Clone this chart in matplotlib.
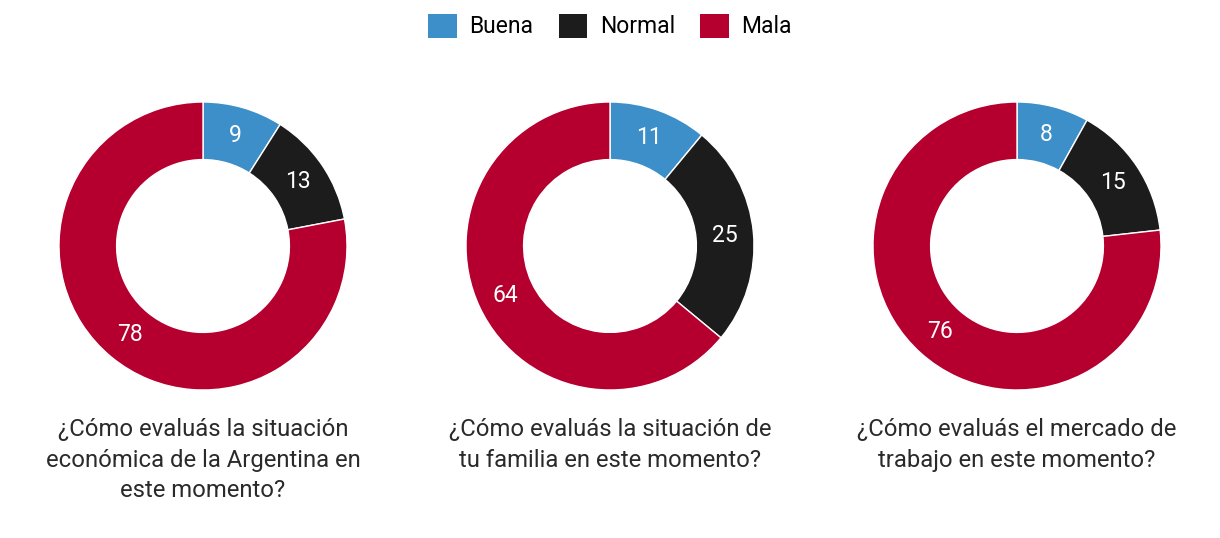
import matplotlib as mpl; mpl.use("Agg")
import matplotlib.pyplot as plt
from matplotlib.patches import Patch
import numpy as np

plt.rcParams["font.family"] = ["Roboto", "DejaVu Sans"]

CATS = ["Buena", "Normal", "Mala"]
COLORS = ["#3d8fca", "#1c1c1c", "#b5002f"]
VALUES = [
    [9, 13, 78],
    [11, 25, 64],
    [8, 15, 76],
]
TITLES = [
    "¿Cómo evaluás la situación\neconómica de la Argentina en\neste momento?",
    "¿Cómo evaluás la situación de\ntu familia en este momento?",
    "¿Cómo evaluás el mercado de\ntrabajo en este momento?",
]

W, H = 1220, 538
fig = plt.figure(figsize=(W / 100, H / 100), dpi=100)
fig.patch.set_facecolor("white")

CX = [203, 610, 1017]
CY = 246
R = 144

for cx, vals, title in zip(CX, VALUES, TITLES):
    ax = fig.add_axes([(cx - R) / W, (H - CY - R) / H, 2 * R / W, 2 * R / H])
    ax.pie(vals, colors=COLORS, startangle=90, counterclock=False,
           radius=1.0, wedgeprops=dict(width=0.4, edgecolor="white", lw=1))
    tot = sum(vals)
    ang = 90.0
    for v in vals:
        mid = np.deg2rad(ang - 360 * v / tot / 2)
        ang -= 360 * v / tot
        ax.text(0.8 * np.cos(mid), 0.8 * np.sin(mid), str(v), ha="center", va="center",
                color="white", fontsize=16.5)
    ax.set_xlim(-1, 1)
    ax.set_ylim(-1, 1)
    ax.set_aspect("equal")
    ax.axis("off")
    fig.text(cx / W, 1 - 418 / H, title, ha="center", va="top", fontsize=17.2,
             color="#2a2a2a", linespacing=1.42)

handles = [Patch(facecolor=c, edgecolor="none") for c in COLORS]
fig.legend(handles, CATS, loc="center", bbox_to_anchor=(0.5, 1 - 26 / H), ncol=3,
           frameon=False, handlelength=1.25, handleheight=1.25,
           handletextpad=0.55, columnspacing=1.1, prop=dict(size=16.5))

fig.savefig("out.png", dpi=100, facecolor="white")
